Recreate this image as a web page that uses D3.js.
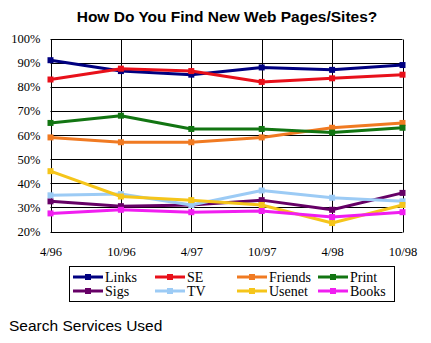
<!DOCTYPE html>
<html><head><meta charset="utf-8">
<script src="https://cdn.jsdelivr.net/npm/d3@7"></script>
<style>body{margin:0;background:#fff}svg{display:block}</style>
</head><body>
<script>
const categories = ["4/96","10/96","4/97","10/97","4/98","10/98"];
const seriesNames = ["Links","SE","Friends","Print","Sigs","TV","Usenet","Books"];
const links   = [91, 86.5, 85, 88, 87, 89];
const se      = [83, 87.5, 86.5, 82, 83.5, 85];
const friends = [59, 57, 57, 59, 63, 65];
const print   = [65, 68, 62.5, 62.5, 61, 63];
const sigs    = [32.5, 30.5, 31, 33, 29, 36];
const tv      = [35, 35.5, 31, 37, 34, 32.5];
const usenet  = [45, 34.5, 33, 31, 23.5, 31];
const books   = [27.5, 29, 28, 28.5, 26, 28];
const colors  = ["#000080","#e8101a","#f07a22","#127512","#660066","#9ccbf5","#f5c51a","#f01ef0"];
const yTicks  = [20,30,40,50,60,70,80,90,100];
const values = [links, se, friends, print, sigs, tv, usenet, books];

const W = 431, H = 343;
const svg = d3.select("body").append("svg").attr("width", W).attr("height", H);

const x = d3.scalePoint().domain(categories).range([50.5, 402.5]);
const y = d3.scaleLinear().domain([20, 100]).range([231.5, 38.5]);

// title
svg.append("text").attr("x", 227).attr("y", 22).attr("text-anchor", "middle")
  .style("font-family", "Arial, 'Liberation Sans', sans-serif").style("font-weight", "bold")
  .style("font-size", "15.5px").text("How Do You Find New Web Pages/Sites?");

// grid
const g = svg.append("g");
g.selectAll("line.h").data(yTicks).join("line")
  .attr("x1", 50.5).attr("x2", 402.5).attr("y1", d => Math.round(y(d)) + 0.5).attr("y2", d => Math.round(y(d)) + 0.5)
  .attr("stroke", "#000").attr("stroke-width", 1);
g.selectAll("line.v").data(categories).join("line")
  .attr("x1", d => Math.round(x(d)) + 0.5).attr("x2", d => Math.round(x(d)) + 0.5)
  .attr("y1", Math.round(y(100)) + 0.5).attr("y2", Math.round(y(20)) + 0.5)
  .attr("stroke", "#000").attr("stroke-width", 1);

// y axis labels
const yAxis = d3.axisLeft(y).tickValues(yTicks).tickSize(0).tickPadding(10).tickFormat(d => d + "%");
const ya = svg.append("g").attr("transform", "translate(50.5,0)").call(yAxis);
ya.select(".domain").remove();
ya.selectAll("text").style("font-family", "'Liberation Serif', 'Times New Roman', serif").style("font-size", "12.5px").attr("fill", "#000");

// x axis labels
const xAxis = d3.axisBottom(x).tickSize(0).tickPadding(16);
const xa = svg.append("g").attr("transform", "translate(0,231.5)").call(xAxis);
xa.select(".domain").remove();
xa.selectAll("text").style("font-family", "'Liberation Serif', 'Times New Roman', serif").style("font-size", "12.5px").attr("fill", "#000");

// lines
const line = d3.line().x((d, i) => x(categories[i])).y(d => y(d));
values.forEach((vals, k) => {
  svg.append("path").datum(vals).attr("d", line).attr("fill", "none")
    .attr("stroke", colors[k]).attr("stroke-width", 3).attr("stroke-linejoin", "round");
  svg.selectAll(null).data(vals).join("rect")
    .attr("x", (d, i) => x(categories[i]) - 3).attr("y", d => y(d) - 3)
    .attr("width", 6).attr("height", 6).attr("fill", colors[k]);
});

// legend
const leg = svg.append("g");
leg.append("rect").attr("x", 69.5).attr("y", 266.5).attr("width", 325).attr("height", 35)
  .attr("fill", "#fff").attr("stroke", "#000").attr("stroke-width", 1);
const colX = [73, 155, 237, 318];
const rowY = [277, 291];
seriesNames.forEach((name, i) => {
  const cx = colX[i % 4], cy = rowY[Math.floor(i / 4)];
  leg.append("line").attr("x1", cx).attr("x2", cx + 30).attr("y1", cy).attr("y2", cy)
    .attr("stroke", colors[i]).attr("stroke-width", 3);
  leg.append("rect").attr("x", cx + 12).attr("y", cy - 3).attr("width", 6).attr("height", 6).attr("fill", colors[i]);
  leg.append("text").attr("x", cx + 32).attr("y", cy + 5)
    .style("font-family", "'Liberation Serif', 'Times New Roman', serif").style("font-size", "14px")
    .text(name);
});

svg.append("text").attr("x", 9).attr("y", 331)
  .style("font-family", "Arial, 'Liberation Sans', sans-serif").style("font-size", "15.5px")
  .text("Search Services Used");
</script>
</body></html>
